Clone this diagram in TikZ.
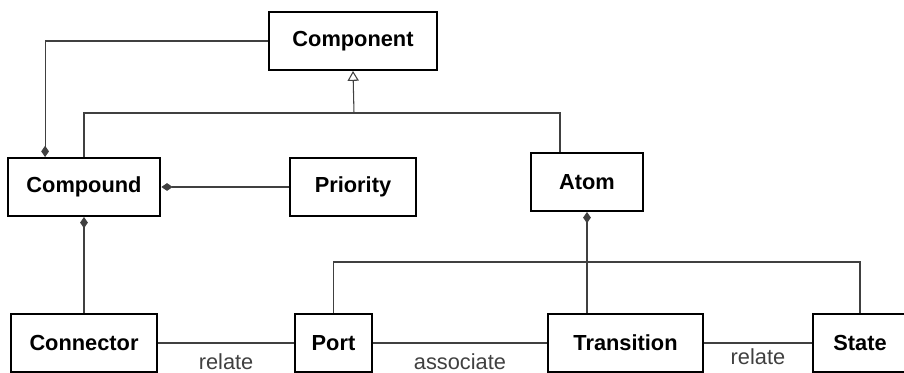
\documentclass[tikz,border=0pt]{standalone}
\usepackage{fontspec}
\setmainfont{Liberation Sans}
\usetikzlibrary{positioning,calc,arrows.meta}

\begin{document}
\begin{tikzpicture}[
    x=0.025cm, y=-0.025cm,
    font=\fontsize{15.5}{18}\selectfont,
    class/.style={rectangle, draw, line width=1.4pt, minimum height=1.45cm, text centered, font=\fontsize{15.5}{18}\selectfont\bfseries},
    relation/.style={draw=black!75, line width=0.75pt},
    composition/.style={relation, {Diamond[length=8pt, width=5.5pt]}-},
    inherit/.style={relation, -{Triangle[open, length=7pt, width=8pt]}},
    lbl/.style={text=black!75, inner sep=0pt}
]
\useasboundingbox (0,0) rectangle (904,373);

% Classes
\node[class, minimum width=4.2cm] (component) at (353,41) {Component};
\node[class, minimum width=3.82cm] (compound) at (84,187) {Compound};
\node[class, minimum width=3.15cm] (priority) at (353,187) {Priority};
\node[class, minimum width=2.8cm] (atom) at (587,182) {Atom};
\node[class, minimum width=3.65cm] (connector) at (84,343) {Connector};
\node[class, minimum width=1.92cm] (port) at (333.5,343) {Port};
\node[class, minimum width=3.87cm] (transition) at (625.5,343) {Transition};
\node[class, minimum width=2.35cm] (state) at (860,343) {State};

% Inheritance
\coordinate (joint) at (354,113);
\draw[relation] (compound.north) |- (joint) -| ($(atom.north west)+(30,0)$);
\draw[inherit] (joint) -- (component.south);

% Compositions
\draw[composition] ($(compound.north west)+(38.5,0)$) |- (component.west);
\draw[composition] (compound.east) -- (priority.west);
\draw[composition] (compound.south) -- (connector.north);
\draw[composition] (atom.south) -- (atom.south |- transition.north);

% Relations
\draw[relation] (port.north) -- ++(0,-51) -| (state.north);
\draw[relation] (connector.east) -- node[lbl, below=7pt] {relate} (port.west);
\draw[relation] (port.east) -- node[lbl, below=7pt] {associate} (transition.west);
\draw[relation] (transition.east) -- node[lbl, below=4pt] {relate} (state.west);

\end{tikzpicture}
\end{document}
